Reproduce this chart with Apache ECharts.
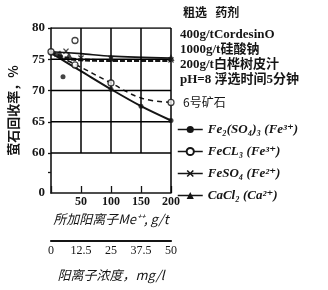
<!DOCTYPE html>
<html><head><meta charset="utf-8">
<script src="https://cdn.jsdelivr.net/npm/echarts@6/dist/echarts.min.js"></script>
<style>html,body{margin:0;padding:0;background:#fff}#c{width:328px;height:290px}</style>
</head><body><div id="c"></div>
<script>
// ---- data ----
const yLabelValues = [60, 65, 70, 75, 80];
const yBreakLabel = '0';
const xTickValues = [50, 100, 150];
const concTicks = [0, 12.5, 25, 37.5, 50];
const seriesNames = ['Fe₂(SO₄)₃ (Fe³⁺)', 'FeCL₃ (Fe³⁺)', 'FeSO₄ (Fe²⁺)', 'CaCl₂ (Ca²⁺)'];
const fe2Curve  = [[0,76],[50,73.1],[100,70.2],[150,67.5],[200,65.2]];
const fe2Pts    = [[0,76],[20,72.2],[100,70.2],[150,67.5],[200,65.2]];
const fecl3Curve= [[0,76],[40,74.2],[100,71.2],[150,68.8],[200,68.1]];
const fecl3Pts  = [[0,76.2],[40,78],[40,74.1],[100,71.2],[200,68.1]];
const feso4Curve= [[0,76],[25,75.2],[50,74.9],[100,74.8],[200,74.8]];
const feso4Pts  = [[10,75.8],[25,76.3],[50,75.2],[100,75.1],[200,74.9]];
const cacl2Curve= [[0,76.2],[50,75.9],[100,75.5],[200,75.2]];
const cacl2Pts  = [[15,75.9],[30,75.6],[100,75.2],[200,75.3]];
const notes = ['400g/tCordesinO','1000g/t硅酸钠','200g/t白桦树皮汁','pH=8 浮选时间5分钟'];

const INK = '#151515';
const SERIF = '"Liberation Serif","DejaVu Serif","Noto Sans CJK SC",serif';
const CJK = '"Noto Sans CJK SC","Liberation Serif",serif';
const YMIN = 53.6, YMAX = 80, XMAX = 200;
const cross = 'path://M0,1.5L1.5,0L5,3.5L8.5,0L10,1.5L6.5,5L10,8.5L8.5,10L5,6.5L1.5,10L0,8.5L3.5,5Z';

const chart = echarts.init(document.getElementById('c'));
function rule(data){
  return {type:'line', data, symbol:'none', silent:true, xAxisIndex:0, yAxisIndex:0,
    lineStyle:{color:'#000', width:1.5}, z:10};
}
const gridSeries = [
  ...yLabelValues.map(v => rule([[0, v],[XMAX, v]])),
  ...xTickValues.map(v => rule([[v, yLabelValues[0]],[v, YMAX]])),
  rule([[XMAX, YMIN],[XMAX, YMAX]])
];
function curve(name, data, symbol, lineType, width, smooth){
  return {type:'line', name, data, xAxisIndex:0, yAxisIndex:0, smooth: smooth,
    symbol, symbolSize: 6, showSymbol:false, color: INK,
    lineStyle:{color:INK, width, type: lineType}, z:3};
}
function pts(name, data, symbol, size, filled){
  return {type:'scatter', name, data, xAxisIndex:0, yAxisIndex:0, symbol, symbolSize:size,
    itemStyle: filled ? {color:INK} : {color:'#fff', borderColor:INK, borderWidth:1.3}, z:11};
}
const option = {
  animation:false,
  grid:[
    {left:51, top:28, width:120, height:165},
    {left:51, top:240, width:120, height:1}
  ],
  xAxis:[
    {gridIndex:0, type:'value', min:0, max:XMAX, interval:50,
     axisLine:{lineStyle:{color:INK, width:1.6}},
     axisTick:{show:true, inside:true, length:7, lineStyle:{color:INK, width:1.3}},
     axisLabel:{color:INK, fontFamily:SERIF, fontWeight:'bold', fontSize:12, margin:3, formatter: v => v===0?'':String(v)},
     splitLine:{show:false},
     name:'所加阳离子Me⁺⁺, g/t', nameLocation:'middle', nameGap:18,
     nameTextStyle:{color:INK, fontFamily:CJK, fontStyle:'italic', fontSize:13}},
    {gridIndex:1, type:'value', min:0, max:50, interval:12.5, position:'bottom',
     axisLine:{lineStyle:{color:INK, width:2.2}},
     axisTick:{show:false},
     axisLabel:{color:INK, fontFamily:SERIF, fontSize:12, margin:4},
     splitLine:{show:false},
     name:'阳离子浓度，mg/l', nameLocation:'middle', nameGap:28,
     nameTextStyle:{color:INK, fontFamily:CJK, fontStyle:'italic', fontSize:13}}
  ],
  yAxis:[
    {gridIndex:0, type:'value', min:YMIN, max:YMAX,
     axisLine:{show:true, lineStyle:{color:INK, width:1.6}},
     axisTick:{show:true, length:3, lineStyle:{color:INK, width:1.3}, customValues:[57].concat(yLabelValues)},
     axisLabel:{color:INK, fontFamily:SERIF, fontWeight:'bold', fontSize:13, margin:6,
       customValues:[YMIN].concat(yLabelValues), formatter: v => v < 55 ? yBreakLabel : String(v)},
     splitLine:{show:false},
     name:'萤石回收率，%', nameLocation:'middle', nameRotate:90, nameGap:31,
     nameTextStyle:{color:INK, fontFamily:CJK, fontWeight:'bold', fontSize:13}},
    {gridIndex:1, type:'value', min:0, max:1, show:false}
  ],
  legend:{
    orient:'vertical', left:172, top:118, itemGap:9, itemWidth:25, itemHeight:9,
    textStyle:{color:INK, fontFamily:SERIF, fontStyle:'italic', fontWeight:'bold', fontSize:13},
    data: seriesNames.map(n => ({name:n, lineStyle:{type:'solid', width:1.5}}))
  },
  graphic:[
    {type:'text', left:183, top:6, style:{text:'粗选   药剂', fill:INK, font:'bold 12px '+CJK}},
    ...notes.map((t,i) => ({type:'text', left:180, top:28+i*15, style:{text:t, fill:INK, font:'bold 13px '+SERIF}})),
    {type:'text', left:183, top:96, style:{text:'6号矿石', fill:INK, font:'12px '+CJK}}
  ],
  series:[
    ...gridSeries,
    curve(seriesNames[0], fe2Curve, 'circle', 'solid', 2, 0.3),
    pts(seriesNames[0], fe2Pts, 'circle', 5, true),
    curve(seriesNames[1], fecl3Curve, 'emptyCircle', [5,4], 1.5, 0.4),
    pts(seriesNames[1], fecl3Pts, 'circle', 6, false),
    curve(seriesNames[2], feso4Curve, cross, [5,2], 3, 0.3),
    pts(seriesNames[2], feso4Pts, cross, 6, true),
    curve(seriesNames[3], cacl2Curve, 'triangle', 'solid', 1.6, 0.3),
    pts(seriesNames[3], cacl2Pts, 'triangle', 7, true)
  ]
};
chart.setOption(option);
</script></body></html>
